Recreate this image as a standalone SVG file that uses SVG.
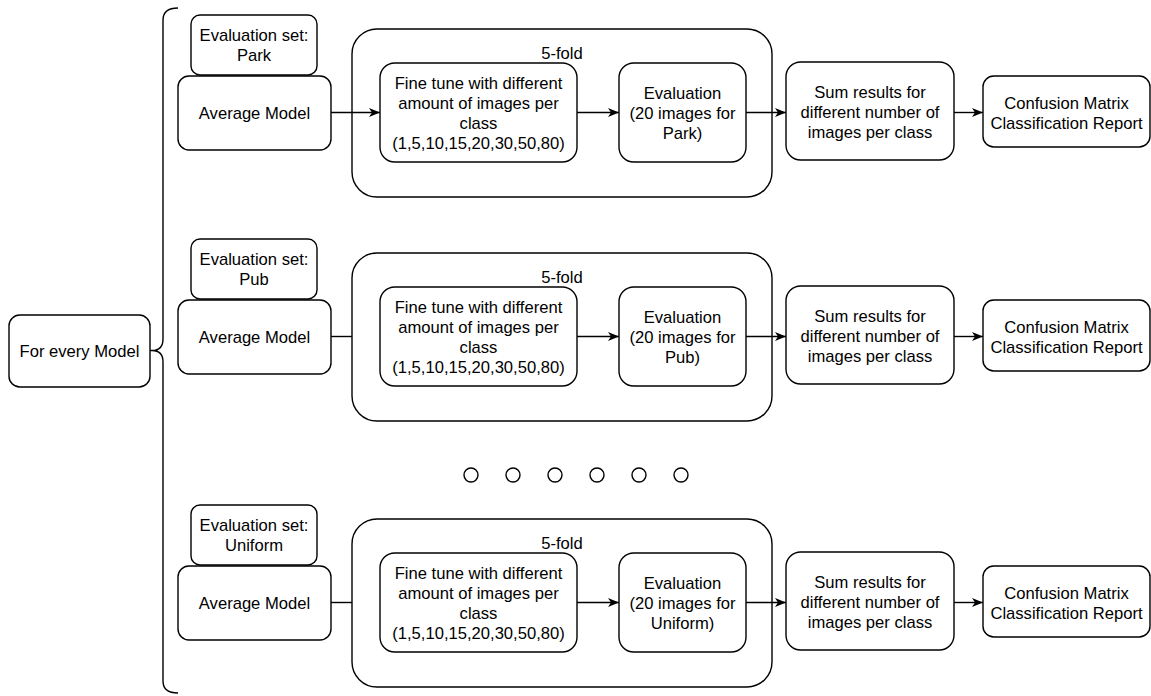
<svg xmlns="http://www.w3.org/2000/svg" width="1151" height="696" viewBox="0 0 1151 696">
  <style>
    .box { fill: #ffffff; stroke: #000000; stroke-width: 1.4; }
    .lbl { font-family: "Liberation Sans", Arial, sans-serif; font-size: 16.6px; fill: #000000; text-anchor: middle; }
    .edge { fill: none; stroke: #000000; stroke-width: 1.4; }
    .dot { fill: #ffffff; stroke: #000000; stroke-width: 1.4; }
  </style>
  <defs>
    <marker id="arrow" markerUnits="userSpaceOnUse" markerWidth="12" markerHeight="10" refX="11" refY="4.5" orient="auto">
      <path d="M0,0 L11,4.5 L0,9 L3,4.5 Z" fill="#000000"/>
    </marker>
  </defs>

  <rect width="1151" height="696" fill="#ffffff"/>

  <!-- root node and the bracket that fans out to every evaluation set -->
  <g id="for-every-model">
    <rect class="box" x="9" y="315" width="141" height="72" rx="10.8"/>
    <text class="lbl" x="79.5" y="357">For every Model</text>
  </g>
  <g id="bracket">
    <path class="edge" d="M178,8 Q163,8 163,20 L163,339 Q163,350.5 152,350.5 Q163,350.5 163,362 L163,681 Q163,693 178,693"/>
  </g>

  <!-- row: Park -->
  <g id="row-park">
    <g id="park-evalset">
      <rect class="box" x="191" y="15" width="126" height="60" rx="9"/>
      <text class="lbl" x="254" y="41">Evaluation set:</text>
      <text class="lbl" x="254" y="61">Park</text>
    </g>
    <g id="park-average">
      <rect class="box" x="178" y="76" width="153" height="74" rx="11"/>
      <text class="lbl" x="254.5" y="118.5">Average Model</text>
    </g>
    <g id="park-fold">
      <rect class="box" x="352" y="29" width="420" height="168" rx="25"/>
      <text class="lbl" x="562" y="58.5">5-fold</text>
    </g>
    <g id="park-finetune">
      <rect class="box" x="380" y="63" width="197" height="99" rx="14.8"/>
      <text class="lbl" x="478.5" y="89">Fine tune with different</text>
      <text class="lbl" x="478.5" y="109">amount of images per</text>
      <text class="lbl" x="478.5" y="129">class</text>
      <text class="lbl" x="478.5" y="149">(1,5,10,15,20,30,50,80)</text>
    </g>
    <g id="park-evaluation">
      <rect class="box" x="619" y="63" width="127" height="99" rx="14.8"/>
      <text class="lbl" x="682.5" y="99">Evaluation</text>
      <text class="lbl" x="682.5" y="119">(20 images for</text>
      <text class="lbl" x="682.5" y="139">Park)</text>
    </g>
    <g id="park-sum">
      <rect class="box" x="786" y="62" width="168" height="98" rx="14.7"/>
      <text class="lbl" x="870" y="98">Sum results for</text>
      <text class="lbl" x="870" y="118">different number of</text>
      <text class="lbl" x="870" y="138">images per class</text>
    </g>
    <g id="park-report">
      <rect class="box" x="983" y="76" width="167" height="71" rx="10.7"/>
      <text class="lbl" x="1066.5" y="108.5">Confusion Matrix</text>
      <text class="lbl" x="1066.5" y="128.5">Classification Report</text>
    </g>
  </g>

  <!-- row: Pub -->
  <g id="row-pub" transform="translate(0,224)">
    <g id="pub-evalset">
      <rect class="box" x="191" y="15" width="126" height="60" rx="9"/>
      <text class="lbl" x="254" y="41">Evaluation set:</text>
      <text class="lbl" x="254" y="61">Pub</text>
    </g>
    <g id="pub-average">
      <rect class="box" x="178" y="76" width="153" height="74" rx="11"/>
      <text class="lbl" x="254.5" y="118.5">Average Model</text>
    </g>
    <g id="pub-fold">
      <rect class="box" x="352" y="29" width="420" height="168" rx="25"/>
      <text class="lbl" x="562" y="58.5">5-fold</text>
    </g>
    <g id="pub-finetune">
      <rect class="box" x="380" y="63" width="197" height="99" rx="14.8"/>
      <text class="lbl" x="478.5" y="89">Fine tune with different</text>
      <text class="lbl" x="478.5" y="109">amount of images per</text>
      <text class="lbl" x="478.5" y="129">class</text>
      <text class="lbl" x="478.5" y="149">(1,5,10,15,20,30,50,80)</text>
    </g>
    <g id="pub-evaluation">
      <rect class="box" x="619" y="63" width="127" height="99" rx="14.8"/>
      <text class="lbl" x="682.5" y="99">Evaluation</text>
      <text class="lbl" x="682.5" y="119">(20 images for</text>
      <text class="lbl" x="682.5" y="139">Pub)</text>
    </g>
    <g id="pub-sum">
      <rect class="box" x="786" y="62" width="168" height="98" rx="14.7"/>
      <text class="lbl" x="870" y="98">Sum results for</text>
      <text class="lbl" x="870" y="118">different number of</text>
      <text class="lbl" x="870" y="138">images per class</text>
    </g>
    <g id="pub-report">
      <rect class="box" x="983" y="76" width="167" height="71" rx="10.7"/>
      <text class="lbl" x="1066.5" y="108.5">Confusion Matrix</text>
      <text class="lbl" x="1066.5" y="128.5">Classification Report</text>
    </g>
  </g>

  <!-- ellipsis between rows -->
  <g id="ellipsis">
    <circle class="dot" cx="471" cy="475" r="7"/>
    <circle class="dot" cx="513" cy="475" r="7"/>
    <circle class="dot" cx="555" cy="475" r="7"/>
    <circle class="dot" cx="597" cy="475" r="7"/>
    <circle class="dot" cx="639" cy="475" r="7"/>
    <circle class="dot" cx="681" cy="475" r="7"/>
  </g>

  <!-- row: Uniform -->
  <g id="row-uniform" transform="translate(0,490)">
    <g id="uniform-evalset">
      <rect class="box" x="191" y="15" width="126" height="60" rx="9"/>
      <text class="lbl" x="254" y="41">Evaluation set:</text>
      <text class="lbl" x="254" y="61">Uniform</text>
    </g>
    <g id="uniform-average">
      <rect class="box" x="178" y="76" width="153" height="74" rx="11"/>
      <text class="lbl" x="254.5" y="118.5">Average Model</text>
    </g>
    <g id="uniform-fold">
      <rect class="box" x="352" y="29" width="420" height="168" rx="25"/>
      <text class="lbl" x="562" y="58.5">5-fold</text>
    </g>
    <g id="uniform-finetune">
      <rect class="box" x="380" y="63" width="197" height="99" rx="14.8"/>
      <text class="lbl" x="478.5" y="89">Fine tune with different</text>
      <text class="lbl" x="478.5" y="109">amount of images per</text>
      <text class="lbl" x="478.5" y="129">class</text>
      <text class="lbl" x="478.5" y="149">(1,5,10,15,20,30,50,80)</text>
    </g>
    <g id="uniform-evaluation">
      <rect class="box" x="619" y="63" width="127" height="99" rx="14.8"/>
      <text class="lbl" x="682.5" y="99">Evaluation</text>
      <text class="lbl" x="682.5" y="119">(20 images for</text>
      <text class="lbl" x="682.5" y="139">Uniform)</text>
    </g>
    <g id="uniform-sum">
      <rect class="box" x="786" y="62" width="168" height="98" rx="14.7"/>
      <text class="lbl" x="870" y="98">Sum results for</text>
      <text class="lbl" x="870" y="118">different number of</text>
      <text class="lbl" x="870" y="138">images per class</text>
    </g>
    <g id="uniform-report">
      <rect class="box" x="983" y="76" width="167" height="71" rx="10.7"/>
      <text class="lbl" x="1066.5" y="108.5">Confusion Matrix</text>
      <text class="lbl" x="1066.5" y="128.5">Classification Report</text>
    </g>
  </g>

  <!-- connectors -->
  <g id="connectors">
    <line class="edge" x1="150" y1="350.5" x2="152" y2="350.5"/>
    <!-- Park -->
    <line class="edge" x1="331" y1="112.5" x2="380" y2="112.5" marker-end="url(#arrow)"/>
    <line class="edge" x1="577" y1="112.5" x2="619" y2="112.5" marker-end="url(#arrow)"/>
    <line class="edge" x1="746" y1="112.5" x2="786" y2="112.5" marker-end="url(#arrow)"/>
    <line class="edge" x1="954" y1="112.5" x2="983" y2="112.5" marker-end="url(#arrow)"/>
    <!-- Pub -->
    <line class="edge" x1="331" y1="336.5" x2="352" y2="336.5"/>
    <line class="edge" x1="577" y1="336.5" x2="619" y2="336.5" marker-end="url(#arrow)"/>
    <line class="edge" x1="746" y1="336.5" x2="786" y2="336.5" marker-end="url(#arrow)"/>
    <line class="edge" x1="954" y1="336.5" x2="983" y2="336.5" marker-end="url(#arrow)"/>
    <!-- Uniform -->
    <line class="edge" x1="331" y1="602.5" x2="352" y2="602.5"/>
    <line class="edge" x1="577" y1="602.5" x2="619" y2="602.5" marker-end="url(#arrow)"/>
    <line class="edge" x1="746" y1="602.5" x2="786" y2="602.5" marker-end="url(#arrow)"/>
    <line class="edge" x1="954" y1="602.5" x2="983" y2="602.5" marker-end="url(#arrow)"/>
  </g>
</svg>
